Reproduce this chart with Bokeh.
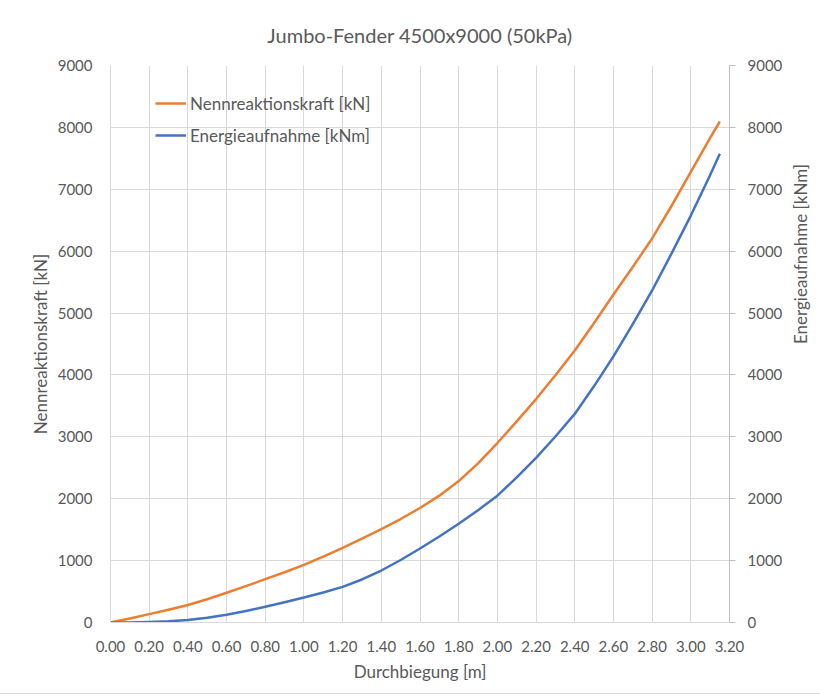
import math
from bokeh.plotting import figure
from bokeh.models import (ColumnDataSource, Range1d, LinearAxis, FixedTicker,
                          NumeralTickFormatter, Legend, LegendItem, Title)
from bokeh.embed import file_html
from bokeh.resources import INLINE

# ---- data ----
deflection = [0.0, 0.1, 0.2, 0.3, 0.4, 0.5, 0.6, 0.7, 0.8, 0.9, 1.0, 1.1, 1.2, 1.3, 1.4, 1.5,
              1.6, 1.7, 1.8, 1.9, 2.0, 2.1, 2.2, 2.3, 2.4, 2.5, 2.6, 2.7, 2.8, 2.9, 3.0, 3.1, 3.15]
reaction_kN = [0, 65, 135, 205, 282, 375, 480, 588, 700, 812, 930, 1063, 1205, 1355, 1510, 1672,
               1850, 2050, 2285, 2570, 2900, 3250, 3610, 3995, 4395, 4840, 5300, 5745, 6205, 6730,
               7280, 7830, 8095]
energy_kNm = [0, 2, 8, 20, 40, 75, 125, 185, 255, 328, 403, 485, 575, 695, 840, 1010,
              1195, 1390, 1595, 1815, 2050, 2345, 2660, 3005, 3370, 3820, 4300, 4820, 5365, 5960,
              6575, 7230, 7573]

x_ticks = [0.0, 0.2, 0.4, 0.6, 0.8, 1.0, 1.2, 1.4, 1.6, 1.8, 2.0, 2.2, 2.4, 2.6, 2.8, 3.0, 3.2]
y_ticks = [0, 1000, 2000, 3000, 4000, 5000, 6000, 7000, 8000, 9000]

title_text = "Jumbo-Fender 4500x9000 (50kPa)"
x_label = "Durchbiegung [m]"
y_left_label = "Nennreaktionskraft [kN]"
y_right_label = "Energieaufnahme  [kNm]"
series_names = ["Nennreaktionskraft [kN]", "Energieaufnahme [kNm]"]

FONT = "Lato"
TXT = "#595959"
GRID = "#D9D9D9"
ORANGE = "#ED7D31"
BLUE = "#4472C4"

src = ColumnDataSource(dict(x=deflection, f=reaction_kN, e=energy_kNm))

p = figure(width=815, height=693, output_backend="svg", toolbar_location=None,
           x_range=Range1d(0, 3.2), y_range=Range1d(0, 9000),
           frame_width=619, frame_height=557,
           min_border_left=110, min_border_right=86, min_border_top=65, min_border_bottom=71,
           x_axis_location=None, y_axis_location=None)
p.extra_y_ranges = {"right": Range1d(0, 9000)}
p.outline_line_color = None
p.background_fill_color = "white"
p.border_fill_color = "white"

t = Title(text=title_text, align="center", text_font=FONT,
          text_font_size="20px", text_font_style="normal", text_color=TXT, standoff=37)
p.add_layout(t, "above")

# axes
xa = LinearAxis(ticker=FixedTicker(ticks=x_ticks), formatter=NumeralTickFormatter(format="0.00"),
                axis_label=x_label)
ya = LinearAxis(ticker=FixedTicker(ticks=y_ticks), formatter=NumeralTickFormatter(format="0"),
                axis_label=y_left_label)
yr = LinearAxis(y_range_name="right", ticker=FixedTicker(ticks=y_ticks),
                formatter=NumeralTickFormatter(format="0"), axis_label=y_right_label)

for ax in (xa, ya, yr):
    ax.major_label_text_font = FONT
    ax.major_label_text_font_size = "15px"
    ax.major_label_text_color = TXT
    ax.axis_label_text_font = FONT
    ax.axis_label_text_font_size = "17px"
    ax.axis_label_text_font_style = "normal"
    ax.axis_label_text_color = TXT
    ax.minor_tick_line_color = None
    ax.major_tick_in = 0

xa.axis_line_color = GRID
xa.major_tick_out = 0
xa.major_label_standoff = 18
xa.axis_label_standoff = 6

ya.axis_line_color = GRID
ya.major_tick_out = 0
ya.major_label_standoff = 18
ya.axis_label_standoff = 4

yr.axis_line_color = "#BFBFBF"
yr.major_tick_line_color = "#BFBFBF"
yr.major_tick_out = 6
yr.major_label_standoff = 12
yr.axis_label_standoff = 15
yr.axis_label_orientation = math.pi / 2
yr.axis_label_text_align = "center"

p.add_layout(xa, "below")
p.add_layout(ya, "left")
p.add_layout(yr, "right")

p.xgrid.ticker = FixedTicker(ticks=x_ticks)
p.ygrid.ticker = FixedTicker(ticks=y_ticks)
p.xgrid.grid_line_color = GRID
p.ygrid.grid_line_color = GRID
p.xgrid.grid_line_width = 1
p.ygrid.grid_line_width = 1

r1 = p.line("x", "f", source=src, line_color=ORANGE, line_width=2.5, line_join="round")
r2 = p.line("x", "e", source=src, line_color=BLUE, line_width=2.5, line_join="round",
            y_range_name="right")

leg = Legend(items=[LegendItem(label=series_names[0], renderers=[r1]),
                    LegendItem(label=series_names[1], renderers=[r2])],
             location=(45, 476), orientation="vertical")
leg.label_text_font = FONT
leg.label_text_font_size = "17px"
leg.label_text_color = TXT
leg.glyph_width = 31
leg.glyph_height = 22
leg.label_height = 22
leg.label_standoff = 4
leg.spacing = 10
leg.padding = 0
leg.margin = 0
leg.border_line_alpha = 0
leg.background_fill_alpha = 0
p.add_layout(leg, "center")

p.styles = {"outline": "1px solid #D9D9D9"}

open("out.html", "w").write(file_html(p, INLINE))
